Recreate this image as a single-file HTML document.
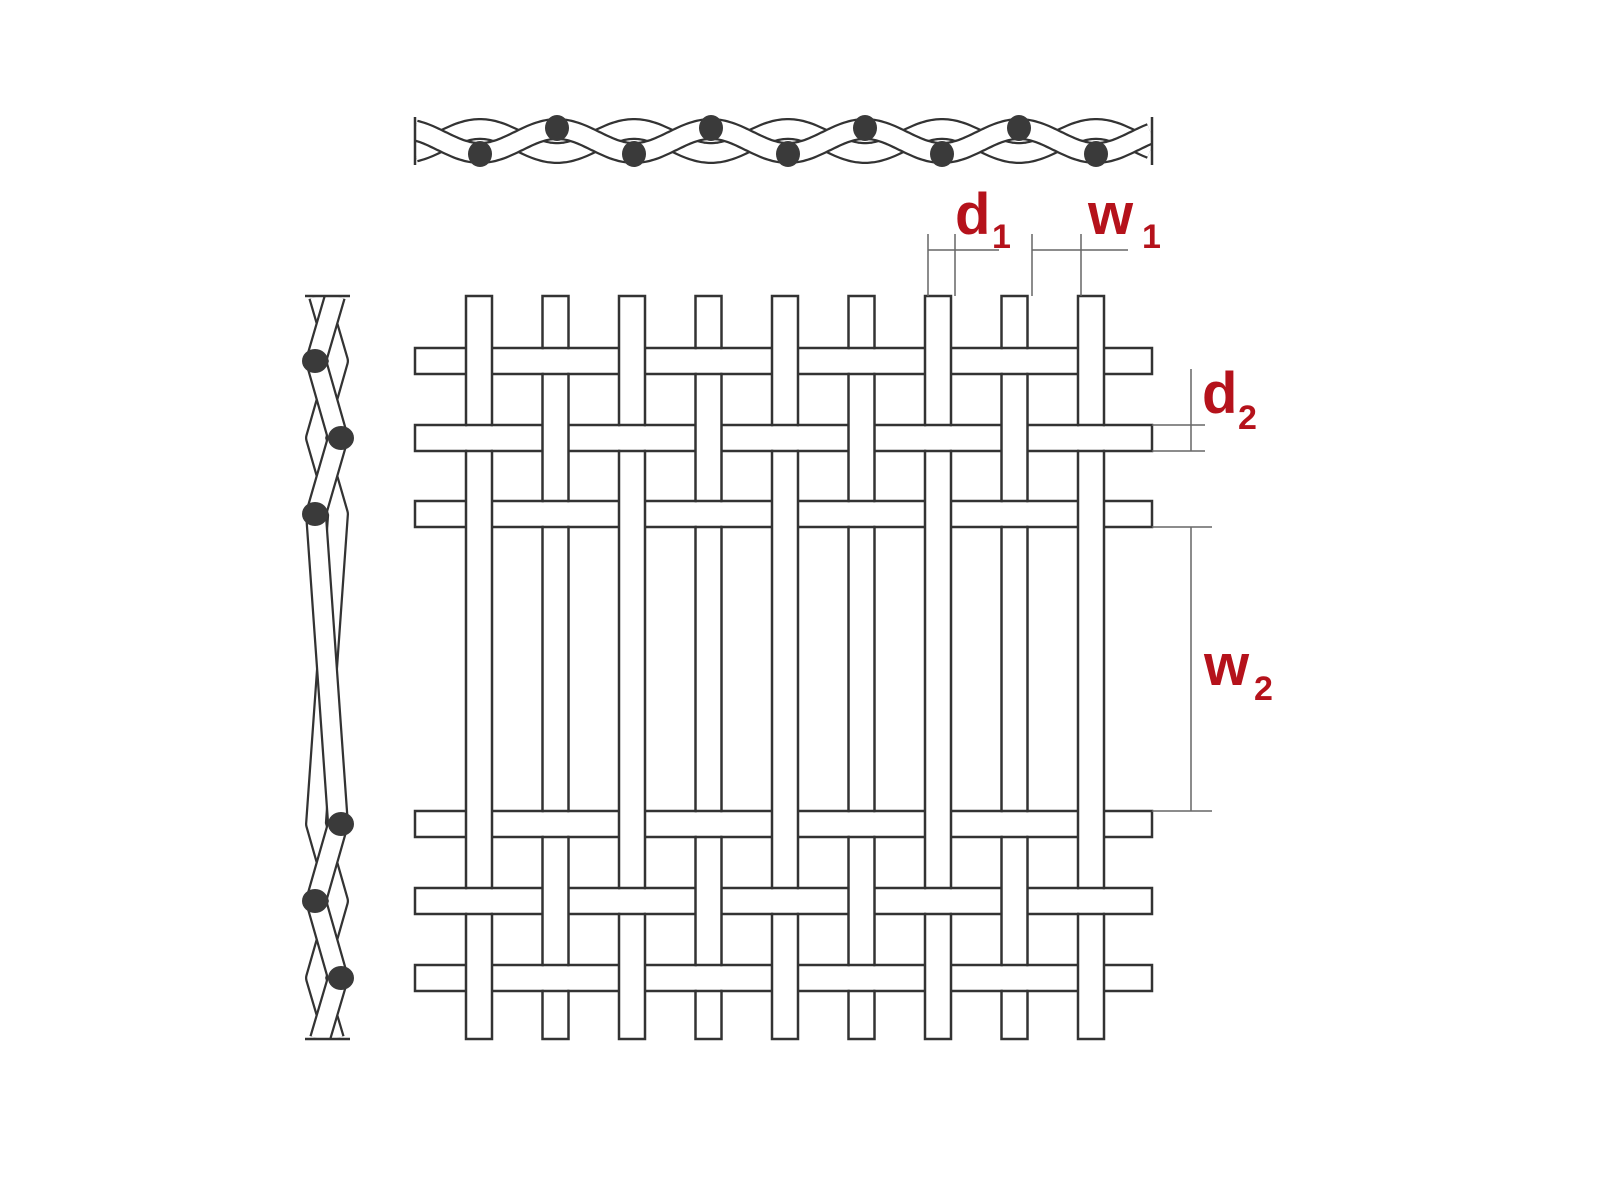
<!DOCTYPE html>
<html><head><meta charset="utf-8"><style>
html,body{margin:0;padding:0;background:#fff;width:1600px;height:1200px;overflow:hidden}
svg{display:block}
.t{font-family:"Liberation Sans",sans-serif;fill:#b5121b;font-weight:bold}
</style></head><body>
<svg id="s" width="1600" height="1200" viewBox="0 0 1600 1200" xmlns="http://www.w3.org/2000/svg">
<g id="g"></g>
<g stroke="#666" stroke-width="1.5" fill="none">
<line x1="928" y1="234" x2="928" y2="296"/><line x1="955" y1="234" x2="955" y2="296"/><line x1="928" y1="250" x2="999" y2="250"/>
<line x1="1032" y1="234" x2="1032" y2="296"/><line x1="1081" y1="234" x2="1081" y2="296"/><line x1="1032" y1="250" x2="1128" y2="250"/>
<line x1="1152" y1="425" x2="1205" y2="425"/><line x1="1152" y1="451" x2="1205" y2="451"/><line x1="1191" y1="369" x2="1191" y2="451"/>
<line x1="1152" y1="527" x2="1212" y2="527"/><line x1="1152" y1="811" x2="1212" y2="811"/><line x1="1191" y1="527" x2="1191" y2="811"/>
</g>
<text class="t" x="955" y="234" font-size="58">d</text><text class="t" x="992" y="248" font-size="34" font-weight="normal">1</text>
<text class="t" x="1088" y="234" font-size="58">w</text><text class="t" x="1142" y="248" font-size="34" font-weight="normal">1</text>
<text class="t" x="1202" y="413" font-size="58">d</text><text class="t" x="1238" y="429" font-size="34" font-weight="normal">2</text>
<text class="t" x="1204" y="685" font-size="58">w</text><text class="t" x="1254" y="700" font-size="34" font-weight="normal">2</text>
</svg>
<script>
var NS="http://www.w3.org/2000/svg",g=document.getElementById('g');
function el(n,a){var e=document.createElementNS(NS,n);for(var k in a)e.setAttribute(k,a[k]);g.appendChild(e);return e;}
function clip(id,x,y,w,h){var c=el('clipPath',{id:id});var r=document.createElementNS(NS,'rect');r.setAttribute('x',x);r.setAttribute('y',y);r.setAttribute('width',w);r.setAttribute('height',h);c.appendChild(r);}
var C="#333";
// top wave
function wave(sign){var d="";for(var x=415;x<=1152;x+=2){var y=141-sign*12*Math.cos(2*Math.PI*(x-480)/154);d+=(x==415?"M":"L")+x+" "+y.toFixed(1);}return d;}
clip('ct',415,100,737,90);
[1,-1].forEach(function(s){var d=wave(s);el('path',{d:d,stroke:C,'stroke-width':22,fill:'none','clip-path':'url(#ct)'});el('path',{d:d,stroke:'#fff','stroke-width':17.5,fill:'none','clip-path':'url(#ct)'});});
el('line',{x1:415,y1:117,x2:415,y2:165,stroke:C,'stroke-width':2.5});
el('line',{x1:1152,y1:117,x2:1152,y2:165,stroke:C,'stroke-width':2.5});
[480,634,788,942,1096].forEach(function(x){el('ellipse',{cx:x,cy:154,rx:12,ry:13,fill:'#3a3a3a'});});
[557,711,865,1019].forEach(function(x){el('ellipse',{cx:x,cy:128,rx:12,ry:13,fill:'#3a3a3a'});});
// left section
var ys=[361,438,514,824,901,978];
function lp(s){var pts=[[327+s*8,296]];ys.forEach(function(y,i){pts.push([327+(i%2==0?-1:1)*s*11,y]);});pts.push([327-s*7,1039]);return pts.map(function(p,i){return (i?"L":"M")+p[0]+" "+p[1];}).join("");}
clip('cl',290,296,80,743);
[-1,1].forEach(function(s){var d=lp(s);el('path',{d:d,stroke:C,'stroke-width':22,fill:'none','stroke-linejoin':'round','clip-path':'url(#cl)'});el('path',{d:d,stroke:'#fff','stroke-width':17.5,fill:'none','stroke-linejoin':'round','clip-path':'url(#cl)'});});
el('line',{x1:305,y1:296,x2:350,y2:296,stroke:C,'stroke-width':2.5});
el('line',{x1:305,y1:1039,x2:350,y2:1039,stroke:C,'stroke-width':2.5});
ys.forEach(function(y,i){el('ellipse',{cx:i%2==0?315:341,cy:y,rx:13,ry:12,fill:'#3a3a3a'});});
// mesh
var rows=[348,425,501,811,888,965],RH=26,bx=[],BW=26;
for(var i=0;i<9;i++)bx.push(466+76.5*i);
rows.forEach(function(y){el('rect',{x:415,y:y,width:737,height:RH,fill:'#fff',stroke:C,'stroke-width':2.5});});
bx.forEach(function(x){el('rect',{x:x,y:296,width:BW,height:743,fill:'#fff',stroke:C,'stroke-width':2.5});});
var pat=[0,1,0,0,1,0];
rows.forEach(function(y,r){bx.forEach(function(x,i){if(i%2!=pat[r]){el('rect',{x:x-1.5,y:y+1.3,width:BW+3,height:RH-2.6,fill:'#fff'});el('line',{x1:x-1,y1:y,x2:x+BW+1,y2:y,stroke:C,'stroke-width':2.5});el('line',{x1:x-1,y1:y+RH,x2:x+BW+1,y2:y+RH,stroke:C,'stroke-width':2.5});}});});
</script>
</body></html>
